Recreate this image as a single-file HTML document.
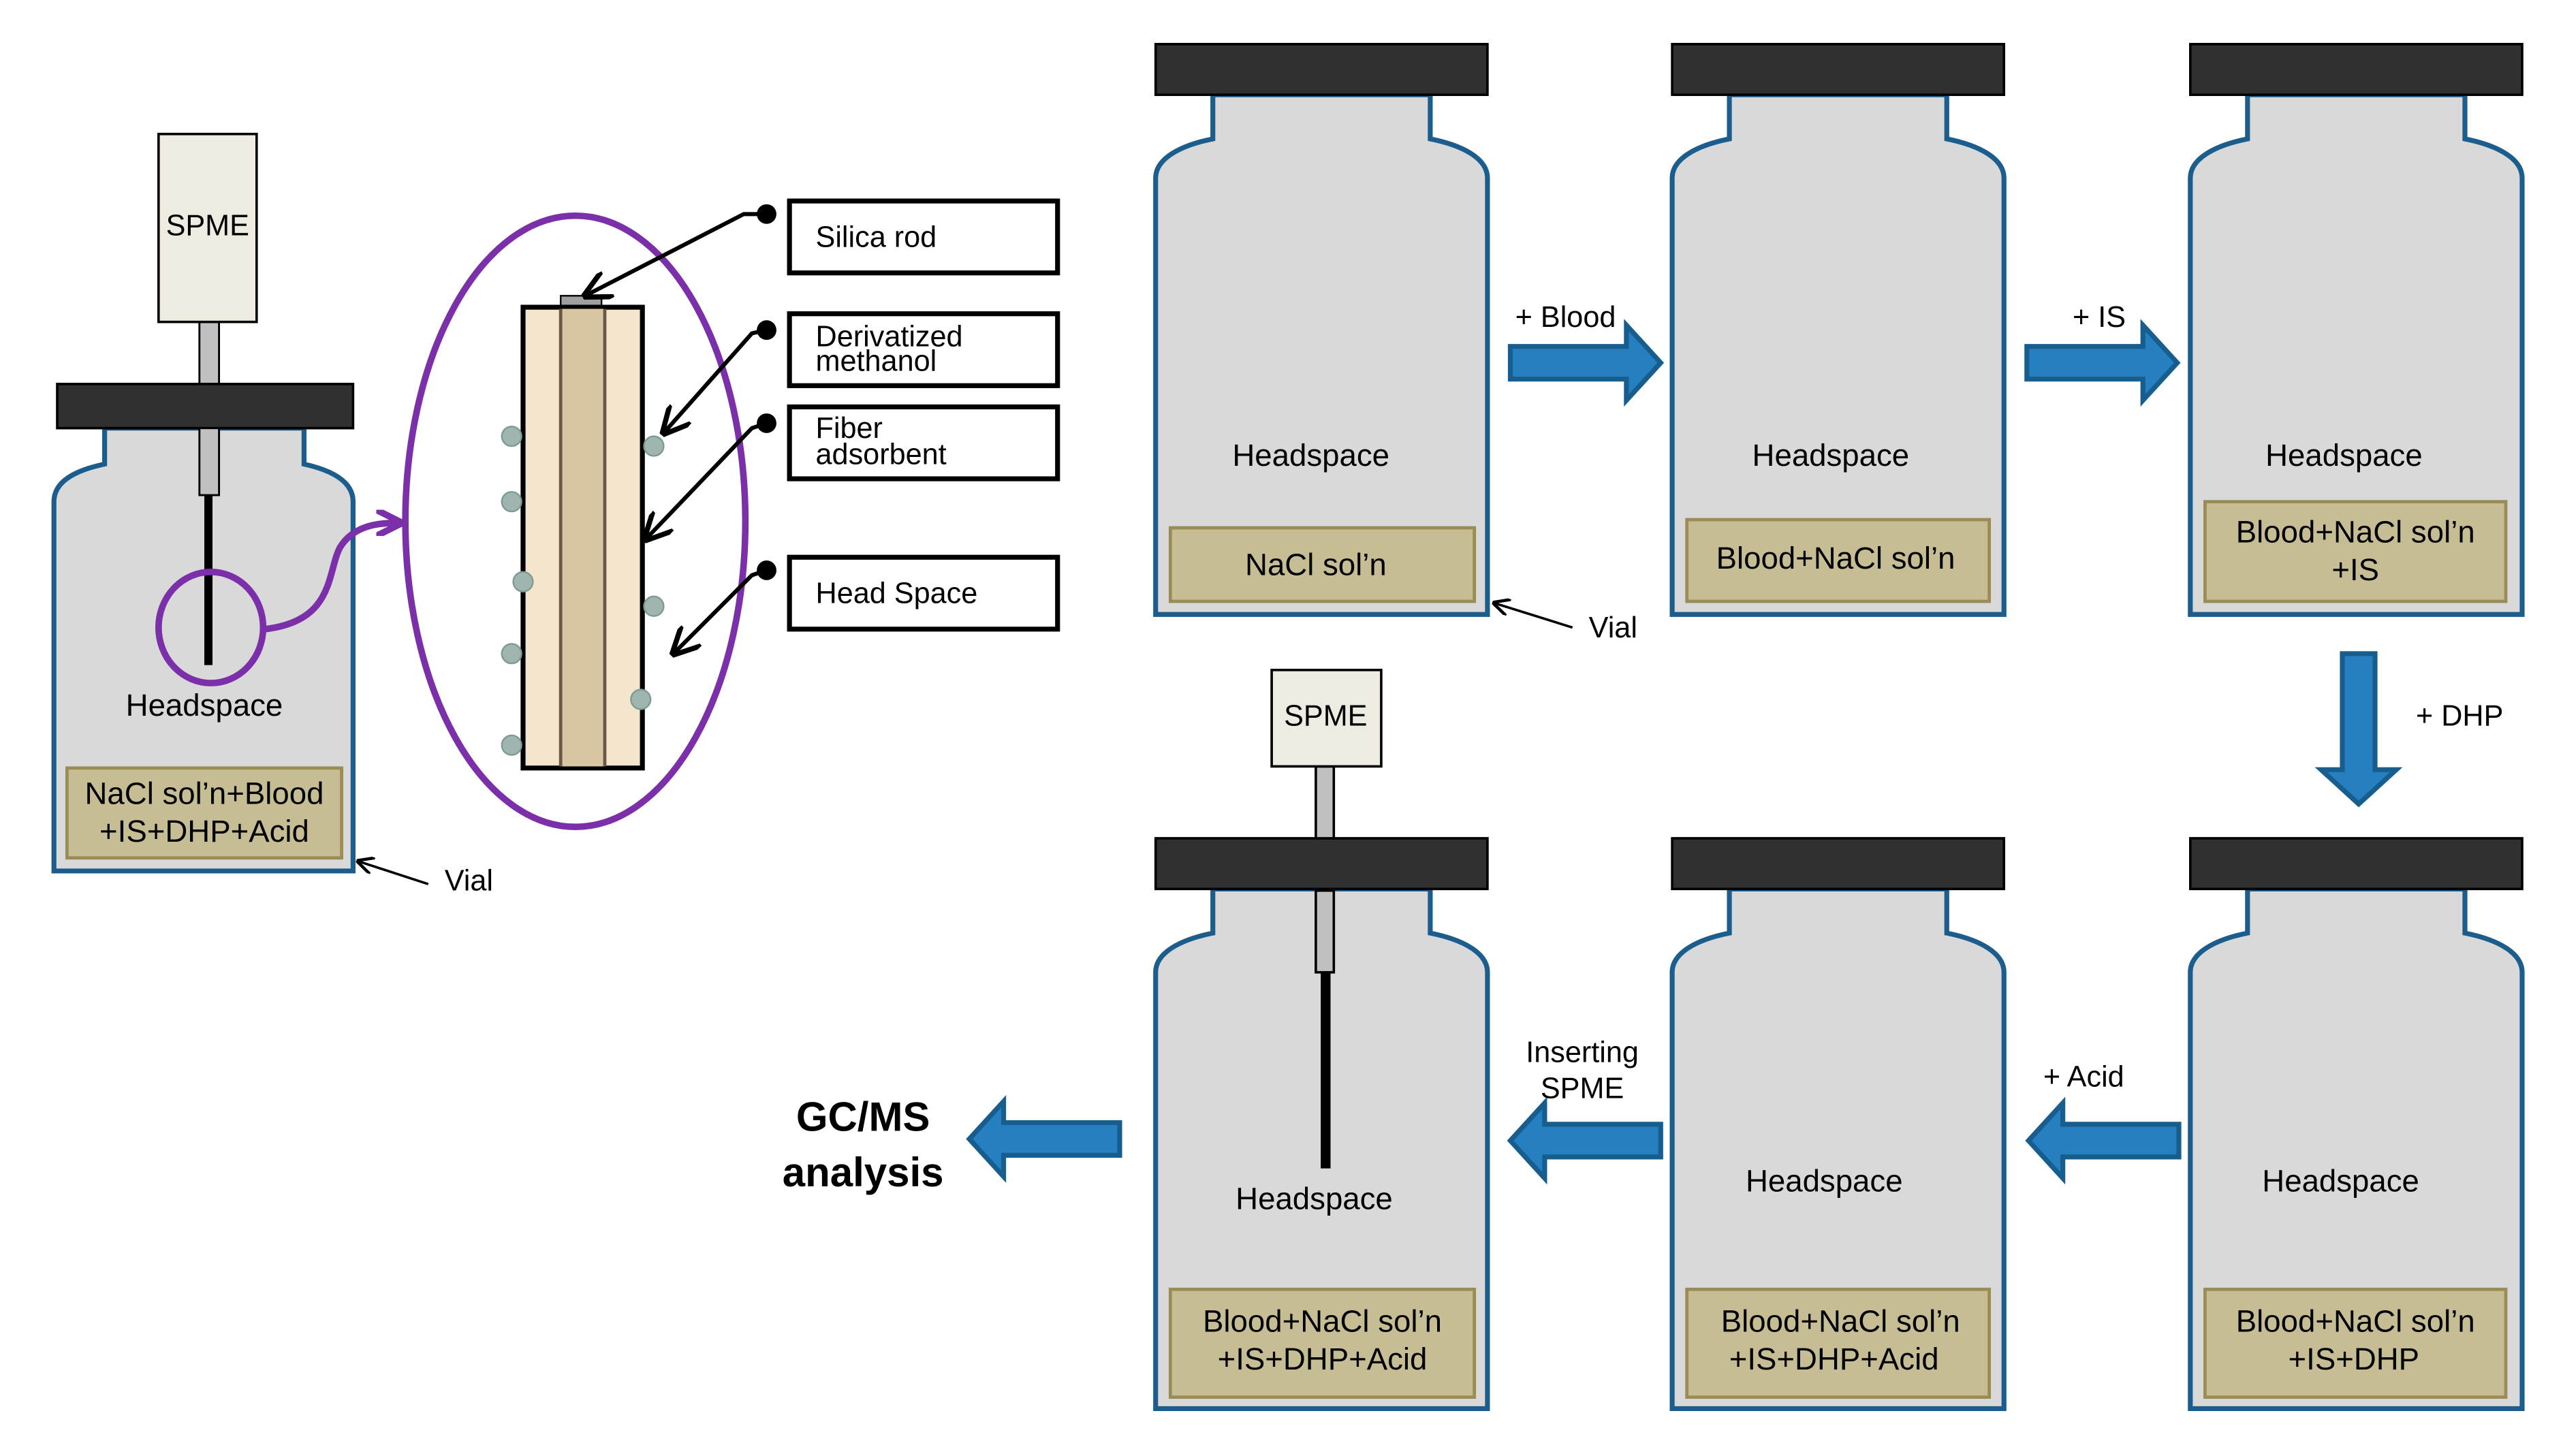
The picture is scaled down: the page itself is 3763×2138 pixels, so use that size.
<!DOCTYPE html>
<html><head><meta charset="utf-8"><style>
html,body{margin:0;padding:0;background:#fff;}
svg{display:block;}
text{font-family:"Liberation Sans",sans-serif;fill:#000;}
</style></head><body>
<svg width="3763" height="2138" viewBox="0 0 1568 891" preserveAspectRatio="none" xmlns="http://www.w3.org/2000/svg">
<defs>
<g id="vial">
  <path d="M35,31 V58 C15,62 0,70 0,82 V349 H203 V82 C203,70 188,62 168,58 V31 Z" fill="#d9d9d9" stroke="#1b5d8d" stroke-width="3"/>
  <rect x="0" y="0" width="203" height="31" fill="#303030" stroke="#000" stroke-width="1.5"/>
</g>
<g id="rarrow">
  <path d="M0,-10 H71 V-23 L92,0 L71,23 V10 H0 Z" fill="#2680c0" stroke="#175d8e" stroke-width="3"/>
</g>
<marker id="ah" viewBox="0 0 10 10" refX="9" refY="5" markerWidth="7" markerHeight="7" orient="auto"><path d="M0,0 L10,5 L0,10" fill="none" stroke="#000" stroke-width="1.8"/></marker>
<marker id="ahp" viewBox="0 0 10 10" refX="8" refY="5" markerWidth="4" markerHeight="4" orient="auto"><path d="M0,0 L10,5 L0,10" fill="none" stroke="#7b2fa8" stroke-width="2.5"/></marker>
</defs>

<use href="#vial" x="707" y="27"/>
<use href="#vial" x="1023" y="27"/>
<use href="#vial" x="1340" y="27"/>
<use href="#vial" x="707" y="513"/>
<use href="#vial" x="1023" y="513"/>
<use href="#vial" x="1340" y="513"/>

<g fill="#c6bd94" stroke="#9a8c55" stroke-width="2">
<rect x="716" y="323" width="186" height="45"/>
<rect x="1032" y="318" width="185" height="50"/>
<rect x="1349" y="307" width="184" height="61"/>
<rect x="716" y="789" width="186" height="66"/>
<rect x="1032" y="789" width="185" height="66"/>
<rect x="1349" y="789" width="184" height="66"/>
</g>

<g font-size="19" text-anchor="middle">
<text x="802" y="285">Headspace</text>
<text x="1120" y="285">Headspace</text>
<text x="1434" y="285">Headspace</text>
<text x="804" y="740">Headspace</text>
<text x="1116" y="729">Headspace</text>
<text x="1432" y="729">Headspace</text>
<text x="805" y="352">NaCl sol’n</text>
<text x="1123" y="348">Blood+NaCl sol’n</text>
<text x="1441" y="332">Blood+NaCl sol’n</text>
<text x="1441" y="355">+IS</text>
<text x="809" y="815">Blood+NaCl sol’n</text>
<text x="809" y="838">+IS+DHP+Acid</text>
<text x="1126" y="815">Blood+NaCl sol’n</text>
<text x="1122" y="838">+IS+DHP+Acid</text>
<text x="1441" y="815">Blood+NaCl sol’n</text>
<text x="1440" y="838">+IS+DHP</text>
</g>

<rect x="805" y="469" width="11" height="44" fill="#c0c0c0" stroke="#000" stroke-width="1.5"/>
<rect x="778" y="410" width="67" height="59" fill="#eeebe0" stroke="#000" stroke-width="1.5"/>
<text x="811" y="444" font-size="18" text-anchor="middle">SPME</text>
<rect x="805" y="545" width="11" height="50" fill="#c0c0c0" stroke="#000" stroke-width="1.5"/>
<rect x="808" y="595" width="6" height="120" fill="#000"/>

<use href="#rarrow" x="924" y="222"/>
<use href="#rarrow" x="1240" y="222"/>
<use href="#rarrow" transform="translate(1443,400) rotate(90)"/>
<use href="#rarrow" transform="translate(1333,698) rotate(180)"/>
<use href="#rarrow" transform="translate(1016,698) rotate(180)"/>
<use href="#rarrow" transform="translate(685,697) rotate(180)"/>

<g font-size="18">
<text x="927" y="200">+ Blood</text>
<text x="1268" y="200">+ IS</text>
<text x="1478" y="444">+ DHP</text>
<text x="1250" y="665">+ Acid</text>
<text x="968" y="650" text-anchor="middle">Inserting</text>
<text x="968" y="672" text-anchor="middle">SPME</text>
<text x="972" y="390">Vial</text>
<text x="272" y="545">Vial</text>
</g>
<text x="528" y="692" font-size="25" font-weight="bold" text-anchor="middle">GC/MS</text>
<text x="528" y="726" font-size="25" font-weight="bold" text-anchor="middle">analysis</text>
<line x1="962" y1="384" x2="914" y2="369" stroke="#000" stroke-width="1.5" marker-end="url(#ah)"/>
<line x1="262" y1="541" x2="219" y2="527" stroke="#000" stroke-width="1.5" marker-end="url(#ah)"/>

<path d="M64,262 V284 C45,288 33,295 33,307 V533 H216 V307 C216,295 204,288 186,284 V262 Z" fill="#d9d9d9" stroke="#1b5d8d" stroke-width="3"/>
<rect x="122" y="197" width="12" height="38" fill="#c0c0c0" stroke="#000" stroke-width="1.2"/>
<rect x="97" y="82" width="60" height="115" fill="#eeebe0" stroke="#000" stroke-width="1.5"/>
<text x="127" y="144" font-size="18" text-anchor="middle">SPME</text>
<rect x="35" y="235" width="181" height="27" fill="#303030" stroke="#000" stroke-width="1.5"/>
<rect x="122" y="262" width="12" height="41" fill="#c0c0c0" stroke="#000" stroke-width="1.2"/>
<rect x="125" y="303" width="5" height="104" fill="#000"/>
<rect x="41" y="470" width="168" height="55" fill="#c6bd94" stroke="#9a8c55" stroke-width="2"/>
<text x="125" y="438" font-size="19" text-anchor="middle">Headspace</text>
<text x="125" y="492" font-size="19" text-anchor="middle">NaCl sol’n+Blood</text>
<text x="125" y="515" font-size="19" text-anchor="middle">+IS+DHP+Acid</text>
<ellipse cx="129" cy="384" rx="32" ry="34" fill="none" stroke="#7b2fa8" stroke-width="4"/>
<path d="M162,385 C205,380 200,350 208,335 C216,322 230,320 243,320" fill="none" stroke="#7b2fa8" stroke-width="4" marker-end="url(#ahp)"/>

<ellipse cx="352" cy="319" rx="104" ry="187" fill="none" stroke="#7b2fa8" stroke-width="4"/>
<rect x="343" y="181" width="25" height="8" fill="#a0a0a0" stroke="#000" stroke-width="1"/>
<rect x="320" y="188" width="73" height="282" fill="#f4e6cc" stroke="#000" stroke-width="3"/>
<rect x="343" y="189" width="27" height="280" fill="#d8c5a3"/>
<line x1="343" y1="189" x2="343" y2="469" stroke="#6a5a45" stroke-width="2"/>
<line x1="370" y1="189" x2="370" y2="469" stroke="#6a5a45" stroke-width="2"/>
<g fill="#9fb5b0" stroke="#7f9a95" stroke-width="1">
<circle cx="313" cy="267" r="6"/><circle cx="313" cy="307" r="6"/><circle cx="320" cy="356" r="6"/>
<circle cx="313" cy="400" r="6"/><circle cx="313" cy="456" r="6"/>
<circle cx="400" cy="273" r="6"/><circle cx="400" cy="371" r="6"/><circle cx="392" cy="428" r="6"/>
</g>
<g stroke="#000" stroke-width="2.5" fill="none">
<path d="M469,131 L455,131 L358,181" marker-end="url(#ah)"/>
<path d="M469,202 L460,204 L406,265" marker-end="url(#ah)"/>
<path d="M469,259 L460,262 L395,330" marker-end="url(#ah)"/>
<path d="M469,349 L460,352 L412,400" marker-end="url(#ah)"/>
</g>
<g fill="#000"><circle cx="469" cy="131" r="6"/><circle cx="469" cy="202" r="6"/><circle cx="469" cy="259" r="6"/><circle cx="469" cy="349" r="6"/></g>
<g fill="#fff" stroke="#000" stroke-width="3">
<rect x="483" y="123" width="164" height="44"/>
<rect x="483" y="192" width="164" height="44"/>
<rect x="483" y="249" width="164" height="44"/>
<rect x="483" y="341" width="164" height="44"/>
</g>
<g font-size="18">
<text x="499" y="151">Silica rod</text>
<text x="499" y="212">Derivatized</text>
<text x="499" y="227">methanol</text>
<text x="499" y="268">Fiber</text>
<text x="499" y="284">adsorbent</text>
<text x="499" y="369">Head Space</text>
</g>
</svg>
</body></html>
